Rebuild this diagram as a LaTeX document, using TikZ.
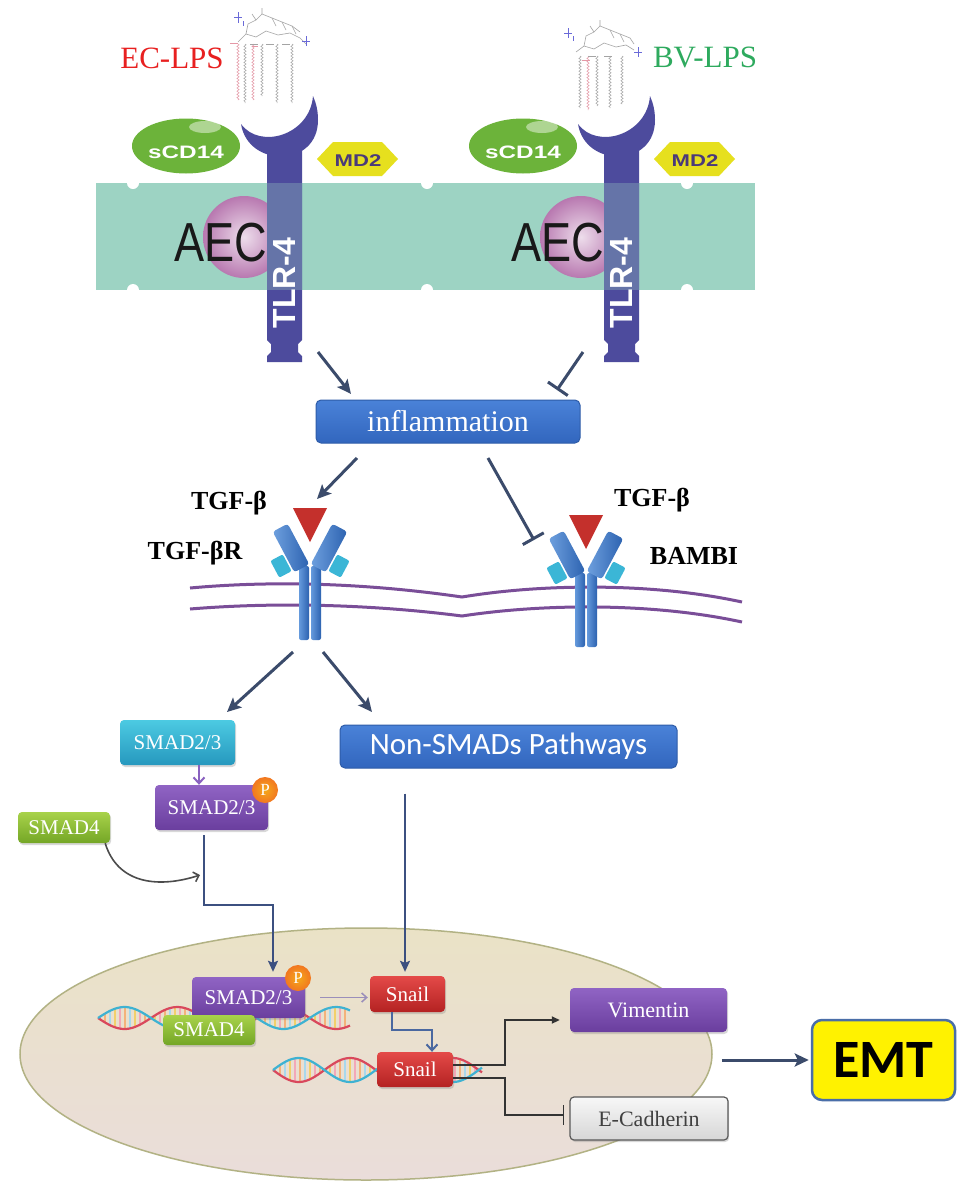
\documentclass[tikz,border=0pt]{standalone}
\usepackage{fontspec}
\setmainfont{Liberation Serif}
\newfontfamily\arialf{Liberation Sans}
\newfontfamily\calibf{Carlito}
\usetikzlibrary{arrows.meta,shapes.geometric,decorations.pathmorphing,calc,shadows}
\definecolor{arrc}{HTML}{3B4B6B}
\definecolor{teal1}{HTML}{9DD3C3}
\definecolor{tlrc}{HTML}{4D4B9D}
\definecolor{cdgreen}{HTML}{6CB33A}
\definecolor{mdyel}{HTML}{E6E01E}
\definecolor{mdtext}{HTML}{4A3A7A}
\definecolor{aecpink}{HTML}{B878B0}
\definecolor{recblue}{HTML}{4A88D6}
\definecolor{recblued}{HTML}{2C62B0}
\definecolor{reccyan}{HTML}{3BB6D6}
\definecolor{trired}{HTML}{C4302C}
\definecolor{memb}{HTML}{7A4E98}
\definecolor{inflb}{HTML}{4A82D8}
\definecolor{inflbd}{HTML}{3266BE}
\definecolor{inflbr}{HTML}{2E5CA8}
\definecolor{cyant}{HTML}{4CCAE2}
\definecolor{cyanb}{HTML}{2698BE}
\definecolor{purt}{HTML}{9064C4}
\definecolor{purb}{HTML}{6A3E9E}
\definecolor{grnt}{HTML}{A8D24A}
\definecolor{grnb}{HTML}{74A626}
\definecolor{redt}{HTML}{E44A48}
\definecolor{redb}{HTML}{B42222}
\definecolor{pcol}{HTML}{F08424}
\definecolor{nuct}{HTML}{EAE2C6}
\definecolor{nucb}{HTML}{EADDDA}
\definecolor{nucbd}{HTML}{B2B284}
\definecolor{dnared}{HTML}{D9485C}
\definecolor{dnacyan}{HTML}{3EB2D2}
\definecolor{rungA}{HTML}{F2D06A}
\definecolor{rungB}{HTML}{F3A8B8}
\definecolor{rungC}{HTML}{F4B27A}
\definecolor{rungD}{HTML}{A8D8EC}
\definecolor{emtb}{HTML}{4A6EA8}
\definecolor{ecol}{HTML}{E82020}
\definecolor{bvcol}{HTML}{2EAA5E}
\definecolor{lpsgray}{HTML}{A4A4A4}
\definecolor{lpspink}{HTML}{E598A6}
\definecolor{lpsblue}{HTML}{6A6AD8}
\definecolor{nucarr}{HTML}{3C5080}
\definecolor{snarr}{HTML}{4A68A0}
\definecolor{thinpur}{HTML}{9A8EBA}
\definecolor{smpur}{HTML}{8A62C0}
\tikzset{
  arr/.style={draw=arrc, line width=3pt, -{Stealth[length=14pt,width=13pt,inset=3pt]}},
  inh/.style={draw=arrc, line width=3pt, -{Bar[width=24pt,line width=3pt]}},
  narr/.style={draw=nucarr, line width=2pt, -{Stealth[length=11pt,width=10pt,inset=2pt]}},
  blk/.style={draw=black!80, line width=1.8pt, -{Triangle[length=8pt,width=7pt]}},
  blkinh/.style={draw=black!80, line width=1.8pt, -{Bar[width=20pt,line width=1.8pt]}},
  sbox/.style={rounded corners=4pt, text=white, font=\fontsize{21}{22}\selectfont,
    drop shadow={opacity=0.3,shadow xshift=1.2pt,shadow yshift=-2pt}, inner sep=0pt},
  cyanbox/.style={sbox, top color=cyant, bottom color=cyanb},
  purbox/.style={sbox, top color=purt, bottom color=purb},
  grnbox/.style={sbox, top color=grnt, bottom color=grnb},
  redbox/.style={sbox, top color=redt, bottom color=redb},
  bluebox/.style={rounded corners=5pt, top color=inflb, bottom color=inflbd, draw=inflbr,
    line width=1pt, text=white, inner sep=0pt},
  pcirc/.style={circle, inner color=pcol!70!yellow, outer color=pcol!90!red, text=white, minimum size=26pt, inner sep=0pt,
    font=\fontsize{17}{17}\selectfont},
  recarm/.style={rounded corners=3pt, left color=recblue!80!white, right color=recblued,
    minimum width=17pt, minimum height=46pt, inner sep=0pt},
  reccy/.style={rounded corners=2pt, fill=reccyan, minimum width=14pt, minimum height=19pt, inner sep=0pt},
  lbl/.style={font=\bfseries\fontsize{26}{28}\selectfont},
  chainz/.style={line width=0.5pt, decorate, decoration={zigzag,segment length=3.2pt,amplitude=1.1pt}},
  sans/.style={font=\arialf\bfseries\fontsize{#1}{#1}\selectfont},
}
\newcommand\tlrshape[2]{%
  \begin{scope}[shift={(#1,0)}]
    \fill[tlrc] (267,150) -- (267,340) -- (271,344) -- (271,352) -- (267,356) -- (267,362)
      -- (302,362) -- (302,356) -- (298,352) -- (298,344) -- (302,340) -- (302,150) -- cycle;
    \fill[teal1, opacity=0.3] (267,183) rectangle (302,290);
    \fill[tlrc] (241,124) .. controls (248,168) and (318,168) .. (318,120)
      .. controls (318,110) and (316,103) .. (313,96)
      .. controls (310,135) and (260,150) .. (241,124) -- cycle;
    \node[sans=32, text=white, rotate=90] (#2) at (284.5,283) {TLR-4};
  \end{scope}}
\newcommand\tgfrec[3]{%
  \begin{scope}[shift={(#1,#2)}]
    \shade[left color=recblue!85!white, right color=recblued, rounded corners=2pt] (-11,58) rectangle (-1,132);
    \shade[left color=recblue!85!white, right color=recblued, rounded corners=2pt] (1,58) rectangle (11,132);
    \node[reccy, rotate=28] at (-29,58) {};
    \node[reccy, rotate=-28] at (29,58) {};
    \node[recarm, rotate=28] at (-19,40) {};
    \node[recarm, rotate=-28] at (19,40) {};
    \fill[trired] (-17,0) -- (17,0) -- (0,34) -- cycle;
    \coordinate (#3) at (0,140);
  \end{scope}}
\begin{document}
\begin{tikzpicture}[x=1pt,y=-1pt]
\useasboundingbox (0,0) rectangle (969,1197);
\fill[white] (0,0) rectangle (969,1197);

% ---------- top panels ----------
\fill[teal1] (96,183) rectangle (755,290);
\foreach \x in {133,427,687} {
  \fill[white] (\x,183) circle[radius=6];
  \fill[white] (\x,290) circle[radius=6];
}
\foreach \dx/\nm in {0/L,337/R} {
  \begin{scope}[shift={(\dx,0)}]
    \shade[inner color=aecpink!25!white, outer color=aecpink] (244,237) circle[radius=41];
    \node[font=\arialf\fontsize{55}{55}\selectfont, xscale=0.82, text=black!90] (aec\nm) at (221,243) {AEC};
    \node[ellipse, fill=cdgreen, minimum width=108, minimum height=55, inner sep=0pt] (cd\nm) at (186,146) {};
    \fill[white, opacity=0.45] (205,127) ellipse[x radius=16, y radius=6];
    \node[sans=18, text=white, xscale=1.35] at (186,152) {sCD14};
    \fill[mdyel] (317,159) -- (333,142) -- (382,142) -- (398,159) -- (382,176) -- (333,176) -- cycle;
    \node[sans=17, text=mdtext, xscale=1.3] (md\nm) at (358,161) {MD2};
  \end{scope}
}
\tlrshape{0}{tlrL}
\tlrshape{337}{tlrR}

% LPS structures
\foreach \x/\ya/\c in {238/100/lpspink,245/103/lpsgray,253/100/lpspink,262/96/lpsgray,277/103/lpsgray,292/103/lpsgray}
  \draw[chainz, \c] (\x,44) -- (\x,\ya);
\draw[lpsgray, line width=0.6pt] (238,42) -- (246,34) -- (256,37) -- (266,31) -- (278,35) -- (290,33) -- (300,38) -- (306,44);
\draw[lpsgray, line width=0.6pt] (246,34) -- (248,24) -- (256,20) -- (262,14) -- (272,18) -- (282,22) -- (292,26) -- (300,32);
\draw[lpsgray, line width=0.6pt] (262,14) -- (262,8) (256,20)--(252,14) (272,18)--(276,26) (282,22)--(286,30) (292,26)--(296,34);
\draw[lpsgray, line width=0.6pt] (250,44)--(258,44) (266,44)--(274,44) (282,44)--(290,44);
\draw[lpspink, line width=0.8pt] (230,43)--(238,43) (252,46)--(258,46);
\draw[lpsblue, line width=0.8pt] (234,17)--(242,17) (238,12)--(238,23) (243,21)--(243,26) (302,41)--(310,41) (306,36)--(306,46);
\foreach \x/\ya/\c in {580/108/lpsgray,588/110/lpspink,597/106/lpsgray,610/108/lpsgray,622/104/lpsgray}
  \draw[chainz, \c] (\x,56) -- (\x,\ya);
\draw[lpsgray, line width=0.6pt] (576,52) -- (584,46) -- (594,49) -- (604,43) -- (616,47) -- (626,45) -- (634,50);
\draw[lpsgray, line width=0.6pt] (584,46) -- (586,36) -- (594,32) -- (600,26) -- (610,30) -- (620,34) -- (630,38) -- (634,44);
\draw[lpsgray, line width=0.6pt] (600,26) -- (600,20) (594,32)--(590,26) (610,30)--(614,38) (620,34)--(624,42);
\draw[lpsgray, line width=0.6pt] (588,56)--(596,56) (604,56)--(612,56);
\draw[lpspink, line width=0.8pt] (582,60)--(590,60);
\draw[lpsblue, line width=0.8pt] (564,33)--(572,33) (568,28)--(568,38) (573,36)--(573,41) (634,52)--(642,52) (638,47)--(638,57);

\node[text=ecol, font=\fontsize{31}{31}\selectfont] (eclps) at (172,58) {EC-LPS};
\node[text=bvcol, font=\fontsize{31}{31}\selectfont] (bvlps) at (705,57) {BV-LPS};

% ---------- inflammation ----------
\node[bluebox, minimum width=264, minimum height=43, font=\fontsize{30}{31}\selectfont] (infl) at (448,421.5) {inflammation};
\coordinate (t1s) at (318,352); \coordinate (t1e) at (351,394);
\coordinate (t2s) at (583,352); \coordinate (t2e) at (557,390);
\draw[arr] (t1s) -- (t1e);
\draw[inh] (t2s) -- (t2e);

% ---------- TGF receptors ----------
\draw[memb, line width=3pt] (190,588) .. controls (300,578) and (400,588) .. (462,597)
  .. controls (540,584) and (650,582) .. (742,602);
\draw[memb, line width=3pt] (190,609) .. controls (300,600) and (400,608) .. (462,616)
  .. controls (540,604) and (650,602) .. (742,622);
\tgfrec{310}{508}{rL}
\tgfrec{586}{515}{rR}
\node[lbl] (tgfb1) at (229,503) {TGF-β};
\node[lbl] (tgfbr) at (195,553) {TGF-βR};
\node[lbl] (tgfb2) at (652,500) {TGF-β};
\node[lbl] (bambi) at (694,556) {BAMBI};
\coordinate (i1s) at (357,458); \coordinate (i1e) at (317,499);
\coordinate (i2s) at (488,458); \coordinate (i2e) at (534,540);
\draw[arr] (i1s) -- (i1e);
\draw[inh] (i2s) -- (i2e);

% ---------- SMAD / non-SMAD ----------
\node[cyanbox, minimum width=115, minimum height=45] (s23a) at (177.5,742.5) {SMAD2/3};
\node[purbox, minimum width=113, minimum height=45] (s23p) at (211.5,807.5) {SMAD2/3};
\node[pcirc] (p1) at (265,790) {P};
\node[grnbox, minimum width=92, minimum height=31] (s4a) at (64,827.5) {SMAD4};
\node[bluebox, minimum width=337, minimum height=43, font=\calibf\fontsize{31}{32}\selectfont] (nsm) at (508.5,746.5) {Non-SMADs Pathways};
\coordinate (r1a) at (293,652); \coordinate (r1b) at (227,712);
\coordinate (r2a) at (323,652); \coordinate (r2b) at (372,712);
\draw[arr] (r1a) -- (r1b);
\draw[arr] (r2a) -- (r2b);
\draw[draw=smpur, line width=2pt, -{Straight Barb[length=6pt,width=11pt]}] ($(s23a.south)+(21.5,0)$) -- ($(s23p.north)+(-12.5,0)$);
\coordinate (s4e) at (200,875);
\draw[draw=black!70, line width=1.6pt, -{Straight Barb[length=5pt,width=10pt]}] ($(s4a.south east)+(-5,0)$) .. controls (118,885) and (160,888) .. (s4e);

% ---------- nucleus ----------
\node[ellipse, minimum width=692, minimum height=252, inner sep=0pt, draw=nucbd, line width=1.5pt,
  top color=nuct, bottom color=nucb] (nuc) at (366,1054) {};

% DNA 1
\foreach \x [count=\i] in {100,105,...,348} {
  \pgfmathsetmacro\ya{1018+11*sin(3.4*(\x-98))}
  \pgfmathsetmacro\yb{1018-11*sin(3.4*(\x-98))}
  \pgfmathtruncatemacro\m{mod(\i,4)}
  \ifcase\m \def\rc{rungA}\or\def\rc{rungB}\or\def\rc{rungC}\else\def\rc{rungD}\fi
  \draw[\rc, line width=1.6pt] (\x,\ya) -- (\x,\yb);
}
\draw[dnared, line width=2.2pt] plot[domain=98:350, samples=90, smooth] (\x,{1018+11*sin(3.4*(\x-98))});
\draw[dnacyan, line width=2.2pt] plot[domain=98:350, samples=90, smooth] (\x,{1018-11*sin(3.4*(\x-98))});
% DNA 2
\foreach \x [count=\i] in {275,280,...,480} {
  \pgfmathsetmacro\ya{1070+12*sin(3.5*(\x-273))}
  \pgfmathsetmacro\yb{1070-12*sin(3.5*(\x-273))}
  \pgfmathtruncatemacro\m{mod(\i,4)}
  \ifcase\m \def\rc{rungA}\or\def\rc{rungB}\or\def\rc{rungC}\else\def\rc{rungD}\fi
  \draw[\rc, line width=1.6pt] (\x,\ya) -- (\x,\yb);
}
\draw[dnared, line width=2.2pt] plot[domain=273:482, samples=80, smooth] (\x,{1070+12*sin(3.5*(\x-273))});
\draw[dnacyan, line width=2.2pt] plot[domain=273:482, samples=80, smooth] (\x,{1070-12*sin(3.5*(\x-273))});

\node[purbox, minimum width=113, minimum height=41] (s23n) at (248.5,997.5) {SMAD2/3};
\node[pcirc] (p2) at (298,978) {P};
\node[grnbox, minimum width=92, minimum height=30] (s4n) at (209,1030) {SMAD4};
\node[redbox, minimum width=75, minimum height=36] (sn1) at (407.5,994) {Snail};
\node[redbox, minimum width=76, minimum height=35] (sn2) at (415,1069.5) {Snail};
\node[purbox, minimum width=157, minimum height=44, font=\fontsize{22}{23}\selectfont] (vim) at (648.5,1010) {Vimentin};
\node[sbox, top color=gray!6, bottom color=gray!32, draw=gray!70!black, line width=1.2pt, text=black!75,
  font=\fontsize{22}{23}\selectfont, minimum width=158, minimum height=43] (ecad) at (649,1118.5) {E-Cadherin};

\draw[narr] ($(s23p.south)+(-7.5,5)$) -- ++(0,70) -| ($(s23n.north)+(24.5,-5)$);
\draw[draw=nucarr, line width=1.6pt, -{Stealth[length=11pt,width=10pt,inset=2pt]}] ($(nsm.south)+(-103.5,25)$) -- ($(sn1.north)+(-2.5,-4)$);
\draw[draw=thinpur, line width=1.5pt, -{Straight Barb[length=5pt,width=9pt]}] ($(s23n.east)+(15,0)$) -- ($(sn1.west)+(-2,3.5)$);
\draw[draw=snarr, line width=2pt, -{Straight Barb[length=6pt,width=11pt]}] ($(sn1.south)+(-15.5,0)$) -- ++(0,18) -| ($(sn2.north)+(17,0)$);
\draw[blk] ($(sn2.east)+(0,-4.5)$) -- ++(52,0) |- ($(vim.west)+(-10,10)$);
\draw[blkinh] ($(sn2.east)+(0,8.5)$) -- ++(52,0) |- ($(ecad.west)+(-5,-3.5)$);

% ---------- EMT ----------
\node[rounded corners=10pt, fill=yellow, draw=emtb, line width=2.5pt, minimum width=143, minimum height=80,
  font=\calibf\bfseries\fontsize{54}{54}\selectfont] (emt) at (883.5,1060) {EMT};
\draw[arr, shorten >=2pt] ($(nuc.east)+(9,6)$) -- (emt.west);
\end{tikzpicture}
\end{document}
